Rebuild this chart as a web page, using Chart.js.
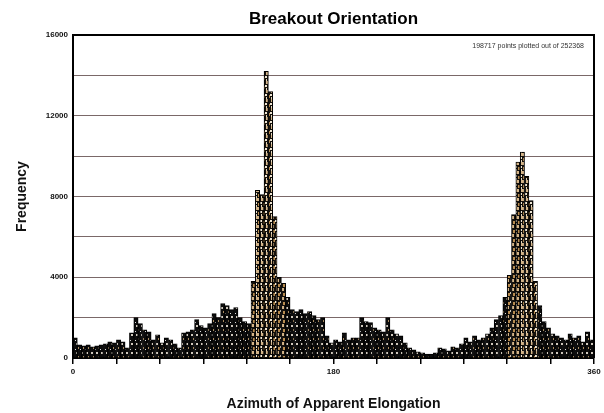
<!DOCTYPE html>
<html>
<head>
<meta charset="utf-8">
<script src="https://cdn.jsdelivr.net/npm/chart.js@4.4.0/dist/chart.umd.min.js"></script>
<style>
  html, body { margin: 0; padding: 0; background: #fff; }
</style>
</head>
<body>
<canvas id="chart" width="604" height="413"></canvas>
<script>
// Breakout azimuth histogram, 3 degree bins
const chartTitle = 'Breakout Orientation';
const plotNote = '198717 points plotted out of 252368';
const xTitle = 'Azimuth of Apparent Elongation';
const yTitle = 'Frequency';

const azimuth = [
  1.5, 4.5, 7.5, 10.5, 13.5, 16.5, 19.5, 22.5, 25.5, 28.5,
  31.5, 34.5, 37.5, 40.5, 43.5, 46.5, 49.5, 52.5, 55.5, 58.5,
  61.5, 64.5, 67.5, 70.5, 73.5, 76.5, 79.5, 82.5, 85.5, 88.5,
  91.5, 94.5, 97.5, 100.5, 103.5, 106.5, 109.5, 112.5, 115.5, 118.5,
  121.5, 124.5, 127.5, 130.5, 133.5, 136.5, 139.5, 142.5, 145.5, 148.5,
  151.5, 154.5, 157.5, 160.5, 163.5, 166.5, 169.5, 172.5, 175.5, 178.5,
  181.5, 184.5, 187.5, 190.5, 193.5, 196.5, 199.5, 202.5, 205.5, 208.5,
  211.5, 214.5, 217.5, 220.5, 223.5, 226.5, 229.5, 232.5, 235.5, 238.5,
  241.5, 244.5, 247.5, 250.5, 253.5, 256.5, 259.5, 262.5, 265.5, 268.5,
  271.5, 274.5, 277.5, 280.5, 283.5, 286.5, 289.5, 292.5, 295.5, 298.5,
  301.5, 304.5, 307.5, 310.5, 313.5, 316.5, 319.5, 322.5, 325.5, 328.5,
  331.5, 334.5, 337.5, 340.5, 343.5, 346.5, 349.5, 352.5, 355.5, 358.5
];

const frequency = [
  1000, 650, 600, 650, 550, 600, 650, 700, 800, 750,
  900, 800, 500, 1250, 2000, 1700, 1400, 1300, 900, 1150,
  750, 1000, 900, 700, 500, 1250, 1300, 1400, 1900, 1600,
  1500, 1700, 2200, 2000, 2700, 2600, 2400, 2500, 2000, 1800,
  1700, 3800, 8300, 8100, 14200, 13200, 7000, 4000, 3700, 3000,
  2400, 2300, 2400, 2200, 2300, 2100, 1900, 2000, 1100, 750,
  900, 800, 1250, 900, 1000, 1000, 2000, 1800, 1750, 1500,
  1400, 1300, 2000, 1400, 1200, 1100, 750, 500, 400, 300,
  250, 200, 200, 250, 500, 450, 350, 550, 500, 700,
  1000, 800, 1100, 900, 1000, 1200, 1500, 1900, 2100, 3000,
  4100, 7100, 9700, 10200, 9000, 7800, 3800, 2600, 1800, 1500,
  1200, 1100, 1000, 900, 1200, 1000, 1100, 800, 1300, 900
];

const xTicks = [0, 30, 60, 90, 120, 150, 180, 210, 240, 270, 300, 330, 360];
const xTickLabels = [0, 180, 360];
const yTickLabels = [0, 4000, 8000, 12000, 16000];

// small mottled tiles to imitate the speckled bars
function makePattern(bg, spots) {
    const c = document.createElement('canvas');
    c.width = 5;
    c.height = 9;
    const g = c.getContext('2d');
    g.fillStyle = bg;
    g.fillRect(0, 0, 5, 9);
    spots.forEach(s => {
        g.fillStyle = s[4];
        g.fillRect(s[0], s[1], s[2], s[3]);
    });
    return g.createPattern(c, 'repeat');
}

const ctx = document.getElementById('chart').getContext('2d');
const darkFill = makePattern('#0c0c0c', [
    [1, 1, 2, 2, '#d0c8bc'],
    [3, 5, 1, 2, '#a88a60'],
    [0, 7, 1, 1, '#dddddd']
]);
const lightFill = makePattern('#15110c', [
    [1, 0, 3, 3, '#d4b488'],
    [0, 4, 2, 2, '#efe6d4'],
    [3, 5, 2, 3, '#b88c50'],
    [1, 7, 1, 2, '#e4d8c0']
]);

const F = "'Liberation Sans', Arial, sans-serif";

const framePlugin = {
    id: 'frame',
    afterDraw(chart) {
        const a = chart.chartArea;
        const c = chart.ctx;
        c.save();
        c.strokeStyle = '#000';
        c.lineWidth = 2;
        c.beginPath();
        c.moveTo(a.left, a.bottom);
        c.lineTo(a.left, a.top);
        c.lineTo(a.right, a.top);
        c.lineTo(a.right, a.bottom);
        c.stroke();
        c.fillStyle = '#000';
        c.textAlign = 'center';
        c.textBaseline = 'alphabetic';
        c.font = 'bold 17px ' + F;
        c.fillText(chartTitle, (a.left + a.right) / 2, 24);
        c.font = '7px ' + F;
        c.fillStyle = '#333';
        c.textAlign = 'right';
        c.fillText(plotNote, a.right - 10, 48);
        c.restore();
    }
};

new Chart(ctx, {
    type: 'bar',
    data: {
        datasets: [{
            label: yTitle,
            data: azimuth.map((a, i) => ({ x: a, y: frequency[i] })),
            backgroundColor: c => (c.raw && c.raw.y > 3500) ? lightFill : darkFill,
            borderColor: '#000',
            borderWidth: 1,
            barPercentage: 1,
            categoryPercentage: 1
        }]
    },
    options: {
        responsive: false,
        animation: false,
        layout: { padding: { top: 35, right: 10, left: 0, bottom: 0 } },
        plugins: {
            legend: { display: false },
            tooltip: { enabled: false }
        },
        scales: {
            x: {
                type: 'linear',
                min: 0,
                max: 360,
                offset: false,
                afterFit: s => { s.height = 55; },
                afterBuildTicks: s => { s.ticks = xTicks.map(v => ({ value: v })); },
                border: { color: '#000', width: 2 },
                grid: {
                    offset: false,
                    drawOnChartArea: false,
                    drawTicks: true,
                    tickLength: 6,
                    color: '#000',
                    lineWidth: 1.5
                },
                ticks: {
                    autoSkip: false,
                    maxRotation: 0,
                    padding: 3,
                    color: '#111',
                    font: { family: F, size: 8, weight: 'bold' },
                    callback: v => xTickLabels.includes(v) ? String(v) : ''
                },
                title: {
                    display: true,
                    text: xTitle,
                    color: '#111',
                    font: { family: F, size: 14, weight: 'bold' },
                    padding: { top: 6, bottom: 0 }
                }
            },
            y: {
                min: 0,
                max: 16000,
                afterFit: s => { s.width = 73; },
                border: { color: '#000', width: 2 },
                grid: {
                    color: '#7a6868',
                    lineWidth: 1,
                    drawTicks: false
                },
                ticks: {
                    stepSize: 2000,
                    autoSkip: false,
                    padding: 5,
                    color: '#111',
                    font: { family: F, size: 8, weight: 'bold' },
                    callback: v => yTickLabels.includes(v) ? String(v) : ''
                },
                title: {
                    display: true,
                    text: yTitle,
                    color: '#111',
                    font: { family: F, size: 14, weight: 'bold' },
                    padding: { top: 14, bottom: 0 }
                }
            }
        }
    },
    plugins: [framePlugin]
});
</script>
</body>
</html>
